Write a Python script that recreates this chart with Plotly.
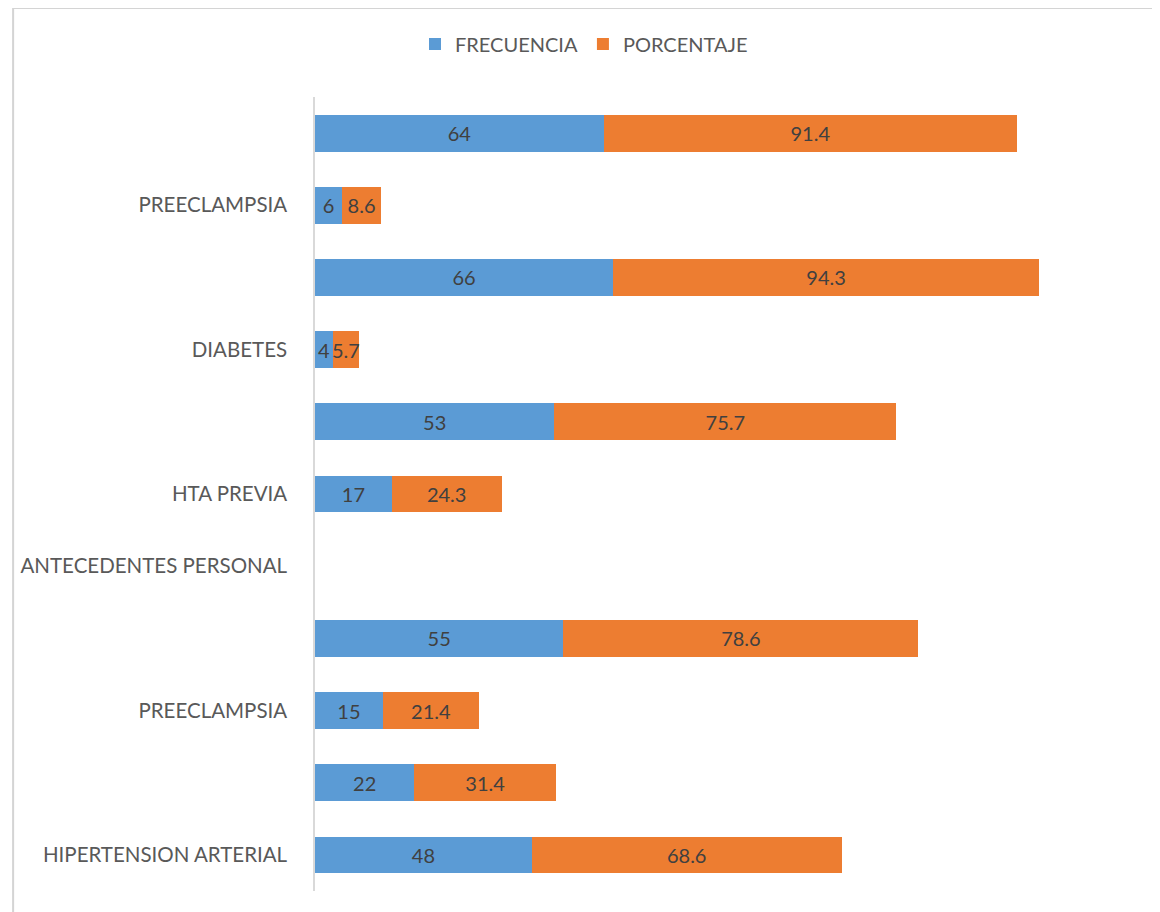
import plotly.graph_objects as go

# Data (bottom to top)
categories = ["HIPERTENSION ARTERIAL", "", "PREECLAMPSIA", "", "ANTECEDENTES PERSONAL",
              "HTA PREVIA", "", "DIABETES", "", "PREECLAMPSIA", ""]
frecuencia = [48, 22, 15, 55, None, 17, 53, 4, 66, 6, 64]
porcentaje = [68.6, 31.4, 21.4, 78.6, None, 24.3, 75.7, 5.7, 94.3, 8.6, 91.4]
positions = list(range(len(categories)))

# page is offset by the default 8px body margin
W, H = 1152, 904
ML, MR, MT, MB = 304, 32, 89, 21
PW, PH = W - ML - MR, H - MT - MB

BLUE = "#5B9BD5"
ORANGE = "#ED7D31"
FONT = "Lato"

fig = go.Figure()
for name, vals, col in [("FRECUENCIA", frecuencia, BLUE), ("PORCENTAJE", porcentaje, ORANGE)]:
    fig.add_trace(go.Bar(
        name=name, x=vals, y=positions, orientation="h", width=0.51,
        marker=dict(color=col, line=dict(width=0)),
        texttemplate="%{x}", textposition="inside", insidetextanchor="middle",
        textangle=0, constraintext="none", cliponaxis=False,
        textfont=dict(family=FONT, size=20, color="#404040"),
    ))

def px_x(p):
    return (p - ML) / PW

def px_y(p):
    return 1 - (p - MT) / PH

fig.update_layout(
    width=W, height=H, barmode="stack",
    margin=dict(l=ML, r=MR, t=MT, b=MB),
    paper_bgcolor="white", plot_bgcolor="white",
    font=dict(family=FONT, color="#595959", size=20),
    legend=dict(orientation="h", x=0.5, xref="container", xanchor="center",
                y=1 - 36 / H, yref="container", yanchor="middle",
                font=dict(family=FONT, size=20, color="#595959"),
                itemwidth=30, traceorder="normal"),
    xaxis=dict(range=[0, 180], visible=False, fixedrange=True),
    yaxis=dict(range=[-0.5, 10.5], tickvals=positions, ticktext=categories,
               showgrid=False, zeroline=False, showline=True, linecolor="#d9d9d9",
               linewidth=1.5, ticks="", ticklabelstandoff=22,
               tickfont=dict(family=FONT, size=20.5, color="#595959")),
    shapes=[dict(type="rect", xref="paper", yref="paper",
                 x0=px_x(1), x1=px_x(1149), y0=px_y(930), y1=px_y(0),
                 line=dict(color="#d4d4d4", width=2), layer="above")],
    showlegend=True,
)

fig.write_html("out.html")
